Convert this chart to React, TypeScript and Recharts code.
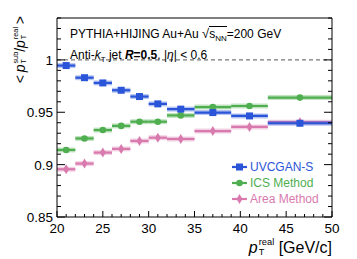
import {
  ComposedChart,
  ErrorBar,
  ReferenceLine,
  Scatter,
  XAxis,
  YAxis,
} from 'recharts'

// bin centres and half widths (pT real, GeV/c)
const binCenters = [21, 23, 25, 27, 29, 31, 33.5, 37, 41, 46.5]
const binHalfWidths = [1, 1, 1, 1, 1, 1, 1.5, 2, 2, 3.5]

const uvcganS = [0.9946, 0.983, 0.978, 0.971, 0.965, 0.958, 0.953, 0.9497, 0.9465, 0.9395]
const icsMethod = [0.914, 0.925, 0.933, 0.937, 0.941, 0.941, 0.947, 0.955, 0.956, 0.964]
const areaMethod = [0.8956, 0.901, 0.9115, 0.915, 0.9226, 0.9257, 0.9245, 0.932, 0.936, 0.9405]

const xMajor = [20, 25, 30, 35, 40, 45, 50]
const yMajor = [0.85, 0.9, 0.95, 1]
const xDomain: [number, number] = [20, 50]
const yDomain: [number, number] = [0.85, 1.04]

const W = 357
const H = 259
// plot box: x 57..332, y 18..217 (axes take 1px each)
const M = { top: 17, right: 24, bottom: 41, left: 56 }

const BLUE = '#2b55d8'
const GREEN = '#4fae4f'
const PINK = '#d97aae'
const FONT = '"Liberation Sans", Arial, Helvetica, sans-serif'

const xTicks: number[] = []
for (let v = 20; v <= 50; v++) xTicks.push(v)
const yTicks: number[] = []
for (let i = 85; i <= 104; i++) yTicks.push(i / 100)

const isXMajor = (v: number) => xMajor.includes(v)
const isYMajor = (v: number) => yMajor.some((m) => Math.abs(m - v) < 1e-6)

function toRows(vals: number[]) {
  return binCenters.map((x, i) => ({ x, y: vals[i], ex: binHalfWidths[i] }))
}

function BottomTick(props: any) {
  const { x, y, payload } = props
  const major = isXMajor(payload.value)
  return (
    <g>
      <line x1={x} x2={x} y1={y} y2={y - (major ? 6 : 3)} stroke="#000" strokeWidth={1} />
      {major && (
        <text x={x} y={y + 16} textAnchor="middle" fontSize={13.5} fontFamily={FONT} fill="#000">
          {payload.value}
        </text>
      )}
    </g>
  )
}

function TopTick(props: any) {
  const { x, y, payload } = props
  const major = isXMajor(payload.value)
  return <line x1={x} x2={x} y1={y} y2={y + (major ? 6 : 3)} stroke="#000" strokeWidth={1} />
}

function LeftTick(props: any) {
  const { x, y, payload } = props
  const major = isYMajor(payload.value)
  return (
    <g>
      <line x1={x} x2={x + (major ? 8 : 4)} y1={y} y2={y} stroke="#000" strokeWidth={1} />
      {major && (
        <text x={x - 4} y={y + 5} textAnchor="end" fontSize={13.5} fontFamily={FONT} fill="#000">
          {String(payload.value)}
        </text>
      )}
    </g>
  )
}

function RightTick(props: any) {
  const { x, y, payload } = props
  const major = isYMajor(payload.value)
  return <line x1={x} x2={x - (major ? 8 : 4)} y1={y} y2={y} stroke="#000" strokeWidth={1} />
}

const square = (p: any) => <rect x={p.cx - 3.5} y={p.cy - 3.5} width={7} height={7} fill={BLUE} />
const circle = (p: any) => <circle cx={p.cx} cy={p.cy} r={3.3} fill={GREEN} />
const diamond = (p: any) => (
  <path
    d={`M${p.cx},${p.cy - 5} L${p.cx + 3},${p.cy} L${p.cx},${p.cy + 5} L${p.cx - 3},${p.cy} Z`}
    fill={PINK}
  />
)

function PtT({ sup, size, ratio = 0.58 }: { sup: string; size: number; ratio?: number }) {
  return (
    <span style={{ whiteSpace: 'nowrap' }}>
      <i style={{ fontSize: size }}>p</i>
      <span
        style={{
          display: 'inline-flex',
          flexDirection: 'column',
          fontSize: size * ratio,
          lineHeight: 1,
          position: 'relative',
          top: -size * 0.48,
          marginLeft: 1,
          verticalAlign: 'baseline',
        }}
      >
        <span>{sup}</span>
        <span>T</span>
      </span>
    </span>
  )
}

function LegendRow({ color, label, shape }: { color: string; label: string; shape: 'sq' | 'ci' | 'di' }) {
  return (
    <div style={{ display: 'flex', alignItems: 'center', height: 16, color }}>
      <svg width={15} height={12} style={{ marginRight: 3 }}>
        <line x1={0} x2={15} y1={6} y2={6} stroke={color} strokeWidth={2.2} />
        {shape === 'sq' && <rect x={4} y={2.5} width={7} height={7} fill={color} />}
        {shape === 'ci' && <circle cx={7.5} cy={6} r={3.3} fill={color} />}
        {shape === 'di' && <path d="M7.5,1 L10.5,6 L7.5,11 L4.5,6 Z" fill={color} />}
      </svg>
      <span>{label}</span>
    </div>
  )
}

export default function App() {
  const sets = [
    { name: 'Area Method', vals: areaMethod, color: PINK, shape: diamond },
    { name: 'ICS Method', vals: icsMethod, color: GREEN, shape: circle },
    { name: 'UVCGAN-S', vals: uvcganS, color: BLUE, shape: square },
  ]
  const axisCommon = {
    type: 'number' as const,
    interval: 0 as const,
    tickSize: 0,
    tickMargin: 0,
    axisLine: { stroke: '#000' },
    allowDataOverflow: true,
  }
  return (
    <div style={{ position: 'absolute', left: 0, top: 0, width: W, height: H, background: '#fff', fontFamily: FONT }}>
      <ComposedChart width={W} height={H} margin={M}>
        <XAxis {...axisCommon} xAxisId="b" dataKey="x" domain={xDomain} ticks={xTicks} height={1} tick={<BottomTick />} />
        <XAxis {...axisCommon} xAxisId="t" orientation="top" domain={xDomain} ticks={xTicks} height={1} tick={<TopTick />} />
        <YAxis {...axisCommon} yAxisId="l" domain={yDomain} ticks={yTicks} width={1} tick={<LeftTick />} />
        <YAxis {...axisCommon} yAxisId="r" orientation="right" domain={yDomain} ticks={yTicks} width={1} tick={<RightTick />} />
        <ReferenceLine xAxisId="b" yAxisId="l" y={1} stroke="#555" strokeDasharray="4 3" strokeWidth={1} />
        {sets.map((s) => (
          <Scatter
            key={s.name}
            xAxisId="b"
            yAxisId="l"
            data={toRows(s.vals)}
            dataKey="y"
            fill={s.color}
            shape={s.shape}
            isAnimationActive={false}
          >
            <ErrorBar dataKey="ex" direction="x" width={0} stroke={s.color} strokeOpacity={0.35} strokeWidth={5} />
            <ErrorBar dataKey="ex" direction="x" width={0} stroke={s.color} strokeWidth={2.2} />
          </Scatter>
        ))}
      </ComposedChart>

      <div style={{ position: 'absolute', left: 70, top: 26, fontSize: 12, lineHeight: '16px', whiteSpace: 'nowrap' }}>
        <div>
          PYTHIA+HIJING Au+Au{' '}
          <span style={{ fontSize: 13 }}>√</span>
          <span style={{ borderTop: '1px solid #000' }}>
            s<sub style={{ fontSize: 8 }}>NN</sub>
          </span>
          =200 GeV
        </div>
        <div>
          Anti-<i>k</i>
          <sub style={{ fontSize: 8 }}>T</sub> jet <b><i>R</i>=0.5</b>, |<i>η</i>| &lt; 0.6
        </div>
      </div>

      <div style={{ position: 'absolute', left: 232, top: 159, fontSize: 12 }}>
        <LegendRow color={BLUE} label="UVCGAN-S" shape="sq" />
        <LegendRow color={GREEN} label="ICS Method" shape="ci" />
        <LegendRow color={PINK} label="Area Method" shape="di" />
      </div>

      <div style={{ position: 'absolute', right: 25, top: 239, fontSize: 16, lineHeight: '18px', whiteSpace: 'nowrap' }}>
        <PtT sup="real" size={16} /> [GeV/c]
      </div>

      <div
        style={{
          position: 'absolute',
          left: 22,
          top: 16,
          fontSize: 14,
          lineHeight: '18px',
          whiteSpace: 'nowrap',
          transformOrigin: '0 0',
          transform: 'rotate(-90deg) translate(-100%, -50%)',
        }}
      >
        &lt;{'\u2009'}
        <PtT sup="sub" size={14} ratio={0.52} />/<PtT sup="real" size={14} ratio={0.52} />
        {'\u2009'}&gt;
      </div>
    </div>
  )
}
